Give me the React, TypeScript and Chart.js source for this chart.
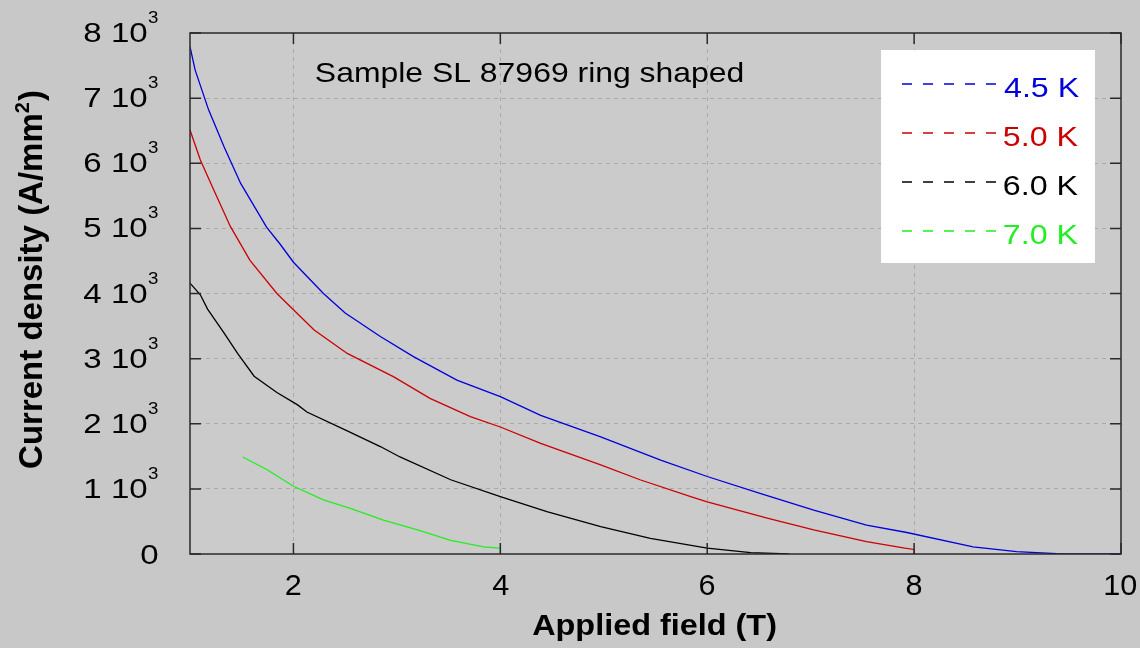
import React, { useEffect, useRef } from "react";
import { Chart, registerables } from "chart.js";

Chart.register(...registerables);

// ---- Data ----
const field45 = [1.0, 1.05, 1.18, 1.33, 1.49, 1.74, 1.87, 2.0, 2.29, 2.5, 2.84, 3.16, 3.58, 4.0, 4.39, 4.97, 5.55, 6.0, 6.51, 7.03, 7.54, 7.93, 8.57, 8.99, 9.38, 10.0];
const jc45 = [7790, 7430, 6820, 6250, 5690, 5020, 4760, 4480, 4000, 3700, 3340, 3030, 2670, 2415, 2130, 1800, 1440, 1190, 930, 675, 445, 330, 110, 35, 5, 0];

const field50 = [1.0, 1.1, 1.23, 1.39, 1.58, 1.84, 2.0, 2.2, 2.52, 2.97, 3.32, 3.71, 4.0, 4.39, 4.97, 5.35, 5.84, 6.0, 6.58, 7.03, 7.54, 7.91, 8.0, 8.0];
const jc50 = [6510, 6050, 5590, 5030, 4510, 4000, 3750, 3440, 3080, 2720, 2390, 2110, 1950, 1700, 1370, 1140, 880, 800, 550, 370, 190, 90, 70, 0];

const field60 = [1.0, 1.1, 1.17, 1.33, 1.46, 1.62, 1.84, 2.04, 2.13, 2.52, 2.84, 3.03, 3.52, 4.0, 4.45, 4.97, 5.45, 6.0, 6.42, 6.79];
const jc60 = [4160, 3980, 3760, 3390, 3080, 2730, 2480, 2290, 2180, 1890, 1650, 1490, 1140, 880, 650, 420, 240, 90, 20, 0];

const field70 = [1.51, 1.75, 2.0, 2.29, 2.55, 2.87, 3.2, 3.52, 3.84, 4.0, 4.0];
const jc70 = [1490, 1290, 1040, 830, 700, 520, 370, 210, 110, 90, 0];

const seriesLabels = ["4.5 K", "5.0 K", "6.0 K", "7.0 K"];
const seriesColors = ["#0000dd", "#cc0000", "#000000", "#22ee22"];

const xTickValues = [2, 4, 6, 8, 10];
const yTickValues = [0, 1000, 2000, 3000, 4000, 5000, 6000, 7000, 8000];

const chartTitle = "Sample SL 87969 ring shaped";
const xAxisTitle = "Applied field (T)";
const yAxisTitleMain = "Current density (A/mm";
const yAxisTitleSup = "2";
const yAxisTitleEnd = ")";

const FONT = "'Liberation Sans', Arial, Helvetica, sans-serif";

function drawText(
  ctx: CanvasRenderingContext2D,
  text: string,
  x: number,
  y: number,
  font: string,
  color: string,
  align: "left" | "right" | "center",
  sx: number
) {
  ctx.save();
  ctx.font = font;
  ctx.fillStyle = color;
  ctx.textAlign = "left";
  ctx.textBaseline = "alphabetic";
  const m = ctx.measureText(text);
  const abl = m.actualBoundingBoxLeft;
  const abr = m.actualBoundingBoxRight;
  ctx.translate(x, y);
  ctx.scale(sx, 1);
  let px = 0;
  if (align === "left") px = abl;
  else if (align === "right") px = -abr;
  else px = (abl - abr) / 2;
  ctx.fillText(text, px, 0);
  ctx.restore();
}

const decorPlugin = {
  id: "decor",
  beforeDraw(chart: any) {
    const { ctx, chartArea: a } = chart;
    ctx.save();
    ctx.fillStyle = "#c8c8c8";
    ctx.fillRect(0, 0, chart.width, chart.height);
    ctx.fillStyle = "#cbcbcb";
    ctx.fillRect(a.left, a.top, a.right - a.left, a.bottom - a.top);
    ctx.restore();
  },
  afterDraw(chart: any) {
    const { ctx, chartArea: a } = chart;
    const xs = chart.scales.x;
    const ys = chart.scales.y;

    // frame
    ctx.save();
    ctx.strokeStyle = "#2a2a2a";
    ctx.lineWidth = 1.5;
    ctx.setLineDash([]);
    ctx.strokeRect(a.left, a.top, a.right - a.left, a.bottom - a.top);
    const tl = 11;
    yTickValues.forEach((v) => {
      const py = ys.getPixelForValue(v);
      ctx.beginPath();
      ctx.moveTo(a.left, py);
      ctx.lineTo(a.left + tl, py);
      ctx.moveTo(a.right, py);
      ctx.lineTo(a.right - tl, py);
      ctx.stroke();
    });
    xTickValues.forEach((v) => {
      const px = xs.getPixelForValue(v);
      ctx.beginPath();
      ctx.moveTo(px, a.bottom);
      ctx.lineTo(px, a.bottom - tl);
      ctx.moveTo(px, a.top);
      ctx.lineTo(px, a.top + tl);
      ctx.stroke();
    });
    ctx.restore();

    // y tick labels
    yTickValues.forEach((v) => {
      const py = ys.getPixelForValue(v);
      if (v === 0) {
        drawText(ctx, "0", 158, py + 10, `28px ${FONT}`, "#000", "right", 1.18);
      } else {
        drawText(ctx, `${v / 1000} 10`, 147, py + 9, `28px ${FONT}`, "#000", "right", 1.18);
        drawText(ctx, "3", 148, py - 10, `17px ${FONT}`, "#000", "left", 1.1);
      }
    });

    // x tick labels
    xTickValues.forEach((v) => {
      const px = xs.getPixelForValue(v);
      drawText(ctx, String(v), px, 595, `30px ${FONT}`, "#000", "center", 1.02);
    });

    // x axis title
    drawText(ctx, xAxisTitle, 654, 635, `bold 30px ${FONT}`, "#000", "center", 1.08);

    // y axis title (rotated, with superscript)
    ctx.save();
    ctx.translate(42, 280);
    ctx.rotate(-Math.PI / 2);
    ctx.fillStyle = "#000";
    ctx.textBaseline = "alphabetic";
    ctx.textAlign = "left";
    const big = `bold 33px ${FONT}`;
    const small = `bold 20px ${FONT}`;
    ctx.font = big;
    const w1 = ctx.measureText(yAxisTitleMain).width;
    const w3 = ctx.measureText(yAxisTitleEnd).width;
    ctx.font = small;
    const w2 = ctx.measureText(yAxisTitleSup).width;
    const sx0 = -(w1 + w2 + w3) / 2;
    ctx.font = big;
    ctx.fillText(yAxisTitleMain, sx0, 0);
    ctx.font = small;
    ctx.fillText(yAxisTitleSup, sx0 + w1, -13);
    ctx.font = big;
    ctx.fillText(yAxisTitleEnd, sx0 + w1 + w2 + 1, 0);
    ctx.restore();

    // annotation title
    drawText(ctx, chartTitle, 316, 82, `28px ${FONT}`, "#000", "left", 1.14);

    // legend
    ctx.save();
    ctx.fillStyle = "#ffffff";
    ctx.fillRect(881, 50, 214, 213);
    ctx.restore();
    seriesLabels.forEach((lab, i) => {
      const ly = 84 + i * 49;
      ctx.save();
      ctx.strokeStyle = seriesColors[i];
      ctx.lineWidth = 1.3;
      ctx.setLineDash([10, 11]);
      ctx.beginPath();
      ctx.moveTo(902, ly);
      ctx.lineTo(996, ly);
      ctx.stroke();
      ctx.restore();
      drawText(ctx, lab, 1004, ly + 13, `28px ${FONT}`, seriesColors[i], "left", 1.15);
    });
  },
};

function toPoints(xs: number[], ys: number[]) {
  return xs.map((x, i) => ({ x, y: ys[i] }));
}

export default function App() {
  const canvasRef = useRef<HTMLCanvasElement | null>(null);

  useEffect(() => {
    document.body.style.margin = "0";
    document.body.style.background = "#c8c8c8";
    const canvas = canvasRef.current;
    if (!canvas) return;

    const fields = [field45, field50, field60, field70];
    const values = [jc45, jc50, jc60, jc70];

    const chart = new Chart(canvas, {
      type: "line",
      data: {
        datasets: seriesLabels.map((lab, i) => ({
          label: lab,
          data: toPoints(fields[i], values[i]),
          borderColor: seriesColors[i],
          backgroundColor: seriesColors[i],
          borderWidth: 1.3,
          pointRadius: 0,
          tension: 0,
          fill: false,
        })),
      },
      options: {
        animation: false,
        responsive: true,
        maintainAspectRatio: false,
        layout: { padding: { left: 190, right: 19, top: 33, bottom: 94 } },
        plugins: {
          legend: { display: false },
          tooltip: { enabled: false },
          title: { display: false },
        },
        scales: {
          x: {
            type: "linear",
            min: 1,
            max: 10,
            ticks: { display: false, stepSize: 2 },
            grid: {
              drawTicks: false,
              color: (c: any) =>
                c.tick && (c.tick.value === 1 || c.tick.value === 10) ? "rgba(0,0,0,0)" : "#a9a9a9",
              lineWidth: 1,
            },
            border: { display: false, dash: [4, 4] },
            afterFit: (s: any) => {
              s.height = 0;
            },
          },
          y: {
            type: "linear",
            min: 0,
            max: 8000,
            ticks: { display: false, stepSize: 1000 },
            grid: {
              drawTicks: false,
              color: (c: any) =>
                c.tick && (c.tick.value === 0 || c.tick.value === 8000) ? "rgba(0,0,0,0)" : "#a9a9a9",
              lineWidth: 1,
            },
            border: { display: false, dash: [4, 4] },
            afterFit: (s: any) => {
              s.width = 0;
            },
          },
        },
      },
      plugins: [decorPlugin],
    } as any);

    return () => {
      chart.destroy();
    };
  }, []);

  return (
    <div style={{ width: "1140px", height: "648px", position: "relative" }}>
      <canvas ref={canvasRef} style={{ display: "block" }} />
    </div>
  );
}
